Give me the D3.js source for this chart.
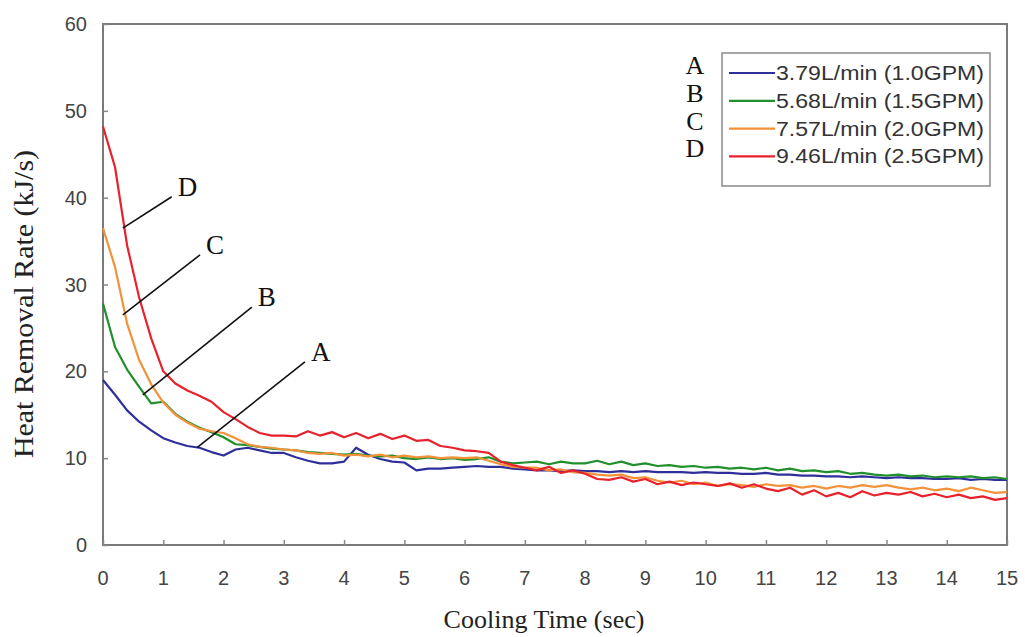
<!DOCTYPE html>
<html>
<head>
<meta charset="utf-8">
<script src="https://cdn.jsdelivr.net/npm/d3@7"></script>
<style>
  body { margin: 0; background: #fff; }
  svg { display: block; }
</style>
</head>
<body>
<svg width="1025" height="637"></svg>
<script>
// cooling time (s), shared by all four runs
var time = [0,0.2,0.4,0.6,0.8,1.0,1.2,1.4,1.6,1.8,2.0,2.2,2.4,2.6,2.8,3.0,3.2,3.4,3.6,3.8,
  4.0,4.2,4.4,4.6,4.8,5.0,5.2,5.4,5.6,5.8,6.0,6.2,6.4,6.6,6.8,7.0,7.2,7.4,7.6,7.8,
  8.0,8.2,8.4,8.6,8.8,9.0,9.2,9.4,9.6,9.8,10.0,10.2,10.4,10.6,10.8,11.0,11.2,11.4,11.6,11.8,
  12.0,12.2,12.4,12.6,12.8,13.0,13.2,13.4,13.6,13.8,14.0,14.2,14.4,14.6,14.8,15.0];

var seriesA = [19.0,17.3,15.5,14.2,13.2,12.3,11.8,11.4,11.2,10.7,10.3,11.0,11.2,10.9,10.6,10.6,10.1,9.7,9.4,9.4,
  9.6,11.2,10.4,9.9,9.6,9.5,8.6,8.8,8.8,8.9,9.0,9.1,9.0,9.0,8.8,8.7,8.6,8.6,8.5,8.6,
  8.5,8.5,8.4,8.5,8.4,8.5,8.4,8.4,8.4,8.3,8.4,8.3,8.3,8.2,8.2,8.3,8.1,8.1,8.0,8.0,
  7.9,7.9,7.8,7.9,7.8,7.7,7.8,7.7,7.7,7.6,7.6,7.7,7.5,7.6,7.5,7.5];
var seriesB = [27.8,22.8,20.2,18.2,16.3,16.5,15.1,14.2,13.5,13.0,12.4,11.6,11.5,11.3,11.1,11.0,10.9,10.7,10.6,10.5,
  10.4,10.5,10.3,10.2,10.3,10.0,9.9,10.1,9.9,10.0,9.8,9.9,10.1,9.6,9.4,9.5,9.6,9.3,9.6,9.4,
  9.4,9.7,9.3,9.6,9.2,9.4,9.1,9.2,9.0,9.1,8.9,9.0,8.8,8.9,8.7,8.9,8.6,8.8,8.5,8.6,
  8.4,8.5,8.2,8.3,8.1,8.0,8.1,7.9,8.0,7.8,7.9,7.8,7.9,7.7,7.8,7.6];
var seriesC = [36.5,32.0,25.5,21.3,18.5,16.4,15.0,14.1,13.4,13.1,12.9,12.3,11.6,11.3,11.2,11.0,10.9,10.6,10.5,10.6,
  10.3,10.4,10.2,10.4,10.1,10.3,10.1,10.2,10.0,10.1,10.0,10.1,9.7,9.3,9.0,8.9,8.9,8.6,8.7,8.4,
  8.3,8.1,8.0,8.1,7.7,7.8,7.4,7.2,7.4,7.0,7.2,6.8,7.0,6.9,6.7,7.0,6.8,6.9,6.6,6.8,
  6.5,6.8,6.6,6.9,6.7,6.9,6.6,6.4,6.6,6.3,6.5,6.2,6.6,6.3,6.0,6.1];
var seriesD = [48.2,43.5,34.5,28.5,23.8,20.0,18.6,17.8,17.2,16.5,15.3,14.5,13.6,12.9,12.6,12.6,12.5,13.1,12.6,13.0,
  12.4,12.9,12.3,12.8,12.2,12.6,12.0,12.1,11.4,11.2,10.9,10.8,10.6,9.6,9.2,8.9,8.6,9.0,8.3,8.6,
  8.2,7.6,7.5,7.8,7.3,7.6,7.0,7.3,6.9,7.2,7.0,6.8,7.1,6.6,7.0,6.5,6.2,6.6,5.8,6.3,
  5.6,6.0,5.5,6.2,5.7,6.0,5.8,6.1,5.6,5.9,5.5,5.8,5.4,5.6,5.2,5.4];

var letters = ['A','B','C','D'];
var legendLabels = ['3.79L/min (1.0GPM)','5.68L/min (1.5GPM)','7.57L/min (2.0GPM)','9.46L/min (2.5GPM)'];
var xTicks = [0,1,2,3,4,5,6,7,8,9,10,11,12,13,14,15];
var yTicks = [0,10,20,30,40,50,60];

// leader line anchors (data units): from curve point to label
var leaderFrom = [[1.56,11.2],[0.66,17.3],[0.33,26.5],[0.33,36.5]];
var leaderTo = [[3.35,21.1],[2.47,27.4],[1.61,33.4],[1.14,40.1]];

var colors = ['#2e2f9a','#21902c','#f2923a','#e8222c'];
var allSeries = [seriesA, seriesB, seriesC, seriesD];

var svg = d3.select('svg');
var x = d3.scaleLinear().domain([0,15]).range([103,1007]);
var y = d3.scaleLinear().domain([0,60]).range([545,24]);

// frame
svg.append('rect').attr('x',103).attr('y',24).attr('width',904).attr('height',521)
  .attr('fill','none').attr('stroke','#7a7a7a').attr('stroke-width',2);

// axes (inward ticks)
var xAxis = svg.append('g').attr('transform','translate(0,545)')
  .call(d3.axisTop(x).tickValues(xTicks).tickSize(5).tickFormat(''));
var yAxis = svg.append('g').attr('transform','translate(103,0)')
  .call(d3.axisRight(y).tickValues(yTicks).tickSize(5).tickFormat(''));
[xAxis, yAxis].forEach(function(g){
  g.select('.domain').remove();
  g.selectAll('line').attr('stroke','#888').attr('stroke-width',1.5);
});

svg.append('g').selectAll('text').data(xTicks).join('text')
  .attr('x', function(d){ return x(d); }).attr('y',585)
  .attr('text-anchor','middle').attr('font-family','Liberation Sans, Arial, sans-serif')
  .attr('font-size',20).attr('fill','#444').text(function(d){ return d; });
svg.append('g').selectAll('text').data(yTicks).join('text')
  .attr('x',87).attr('y', function(d){ return y(d)+7; })
  .attr('text-anchor','end').attr('font-family','Liberation Sans, Arial, sans-serif')
  .attr('font-size',20).attr('fill','#444').text(function(d){ return d; });

// axis titles
svg.append('text').attr('x',544).attr('y',628).attr('text-anchor','middle')
  .attr('font-family','Liberation Serif, Times New Roman, serif').attr('font-size',26)
  .attr('fill','#222').text('Cooling Time (sec)');
svg.append('text').attr('transform','translate(33,304) rotate(-90)').attr('text-anchor','middle')
  .attr('font-family','Liberation Serif, Times New Roman, serif').attr('font-size',27)
  .attr('textLength',308).attr('lengthAdjust','spacingAndGlyphs')
  .attr('fill','#222').text('Heat Removal Rate (kJ/s)');

// curves
var line = d3.line().x(function(d){ return x(d[0]); }).y(function(d){ return y(d[1]); });
allSeries.forEach(function(s,i){
  svg.append('path').datum(time.map(function(t,j){ return [t, s[j]]; }))
    .attr('d', line).attr('fill','none').attr('stroke', colors[i])
    .attr('stroke-width',2.2).attr('stroke-linejoin','round');
});

// leader lines + letters
letters.forEach(function(l,i){
  svg.append('line')
    .attr('x1', x(leaderFrom[i][0])).attr('y1', y(leaderFrom[i][1]))
    .attr('x2', x(leaderTo[i][0])).attr('y2', y(leaderTo[i][1]))
    .attr('stroke','#111').attr('stroke-width',1.6);
  svg.append('text').attr('x', x(leaderTo[i][0])+6).attr('y', y(leaderTo[i][1])-1)
    .attr('font-family','Liberation Serif, Times New Roman, serif').attr('font-size',27)
    .attr('fill','#111').text(l);
});

// legend
svg.append('rect').attr('x',722).attr('y',53).attr('width',268).attr('height',133)
  .attr('fill','#fff').attr('stroke','#8a8a8a').attr('stroke-width',1.5);
letters.forEach(function(l,i){
  var yy = 73 + i*27.8;
  svg.append('text').attr('x',695).attr('y',yy+1).attr('text-anchor','middle')
    .attr('font-family','Liberation Serif, Times New Roman, serif').attr('font-size',26)
    .attr('fill','#111').text(l);
  svg.append('line').attr('x1',729).attr('x2',775).attr('y1',yy).attr('y2',yy)
    .attr('stroke',colors[i]).attr('stroke-width',2.2);
  svg.append('text').attr('x',776).attr('y',yy+7)
    .attr('font-family','Liberation Sans, Arial, sans-serif').attr('font-size',20)
    .attr('textLength',208).attr('lengthAdjust','spacingAndGlyphs')
    .attr('fill','#333').text(legendLabels[i]);
});
</script>
</body>
</html>
